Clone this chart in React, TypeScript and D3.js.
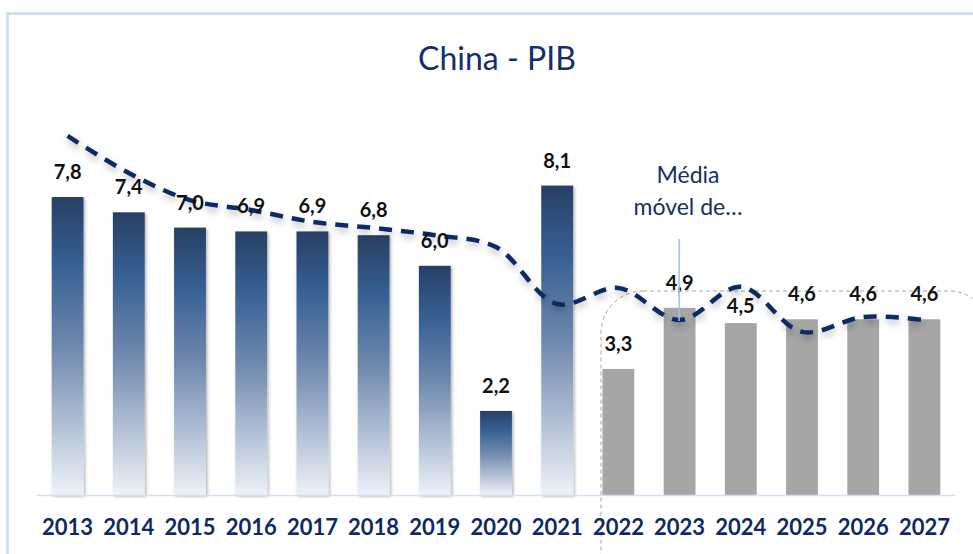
import React from 'react';
import * as d3 from 'd3';

// GDP growth, % (2022 onwards = forecast)
const years = ['2013', '2014', '2015', '2016', '2017', '2018', '2019', '2020', '2021', '2022', '2023', '2024', '2025', '2026', '2027'];
const gdp = [7.8, 7.4, 7.0, 6.9, 6.9, 6.8, 6.0, 2.2, 8.1, 3.3, 4.9, 4.5, 4.6, 4.6, 4.6];
// moving average line
const movingAvg = [9.4, 8.43, 7.72, 7.46, 7.15, 6.99, 6.8, 6.49, 5.0, 5.42, 4.58, 5.45, 4.27, 4.66, 4.58];
const firstForecast = '2022';

const W = 973;
const H = 554;
const navy = '#14306a';
const fontFamily = 'Lato, "Open Sans", sans-serif';

// a few labels sit a little lower in the original
const labelDrop: Record<string, number> = { '2024': 8 };

export default function App() {
  const x = d3.scaleBand<string>()
    .domain(years)
    .range([37, 955])
    .paddingInner(0.48)
    .paddingOuter(0.24);

  const y = d3.scaleLinear().domain([0, 10]).range([495, 113]);

  const cx = (yr: string) => (x(yr) as number) + x.bandwidth() / 2;

  const line = d3.line<number>()
    .x((_, i) => cx(years[i]))
    .y(d => y(d))
    .curve(d3.curveCatmullRom.alpha(0.5));

  const fcIdx = years.indexOf(firstForecast);
  const fmt = (v: number) => v.toFixed(1).replace('.', ',');

  const annX = cx('2023');

  return (
    <svg width={W} height={H} style={{ position: 'absolute', left: 0, top: 0, background: '#fff' }}>
      <defs>
        <linearGradient id="barGrad" x1="0" y1="0" x2="0" y2="1">
          <stop offset="0" stopColor="#283f63" />
          <stop offset="0.22" stopColor="#355f92" />
          <stop offset="0.5" stopColor="#6f88ad" />
          <stop offset="0.78" stopColor="#b5c3d7" />
          <stop offset="1" stopColor="#eef2f8" />
        </linearGradient>
        <filter id="barShadow" x="-20%" y="-5%" width="150%" height="115%">
          <feDropShadow dx="1.5" dy="1.5" stdDeviation="1.5" floodColor="#000" floodOpacity="0.3" />
        </filter>
        <filter id="lineShadow" x="-10%" y="-20%" width="120%" height="160%">
          <feDropShadow dx="1" dy="4" stdDeviation="3.5" floodColor="#000" floodOpacity="0.28" />
        </filter>
      </defs>

      {/* chart frame */}
      <path d={`M7.5,${H} V13.5 H${W}`} fill="none" stroke="#c9d9ef" strokeWidth={2.5} />

      <text x={497} y={70} textAnchor="middle" fontFamily={fontFamily} fontSize={32} fill={navy}>
        China - PIB
      </text>

      {/* forecast highlight */}
      <rect x={601} y={291} width={390} height={320} rx={42} ry={42}
        fill="none" stroke="#a6a6a6" strokeWidth={1} strokeDasharray="4 3" />

      {/* bars */}
      {years.map((yr, i) => (
        <rect key={yr}
          x={x(yr)}
          y={y(gdp[i])}
          width={x.bandwidth()}
          height={y(0) - y(gdp[i])}
          fill={i >= fcIdx ? '#a6a6a6' : 'url(#barGrad)'}
          filter={i >= fcIdx ? undefined : 'url(#barShadow)'} />
      ))}

      {/* x axis */}
      <line x1={37} x2={955} y1={y(0) + 0.5} y2={y(0) + 0.5} stroke="#d3e0f0" strokeWidth={1.5} />
      {years.map(yr => (
        <text key={yr} x={cx(yr)} y={535} textAnchor="middle" fontFamily={fontFamily}
          fontWeight={700} fontSize={22} fill="#0f2a62">
          {yr}
        </text>
      ))}

      {/* moving average */}
      <path d={line(movingAvg) as string} fill="none" stroke="#0b2a63" strokeWidth={4.5}
        strokeDasharray="13 9" filter="url(#lineShadow)" />

      {/* value labels */}
      {years.map((yr, i) => (
        <text key={yr} x={cx(yr)} y={y(gdp[i]) - 18 + (labelDrop[yr] || 0)} textAnchor="middle"
          fontFamily={fontFamily} fontWeight={700} fontSize={20} fill="#111">
          {fmt(gdp[i])}
        </text>
      ))}

      {/* callout */}
      <line x1={annX - 0.5} x2={annX - 0.5} y1={239} y2={321} stroke="#9dc0e8" strokeWidth={1.5} />
      <text x={688} textAnchor="middle" fontFamily={fontFamily} fontSize={23} fill={navy}>
        <tspan x={688} y={183}>Média</tspan>
        <tspan x={688} y={215}>móvel de…</tspan>
      </text>
    </svg>
  );
}
